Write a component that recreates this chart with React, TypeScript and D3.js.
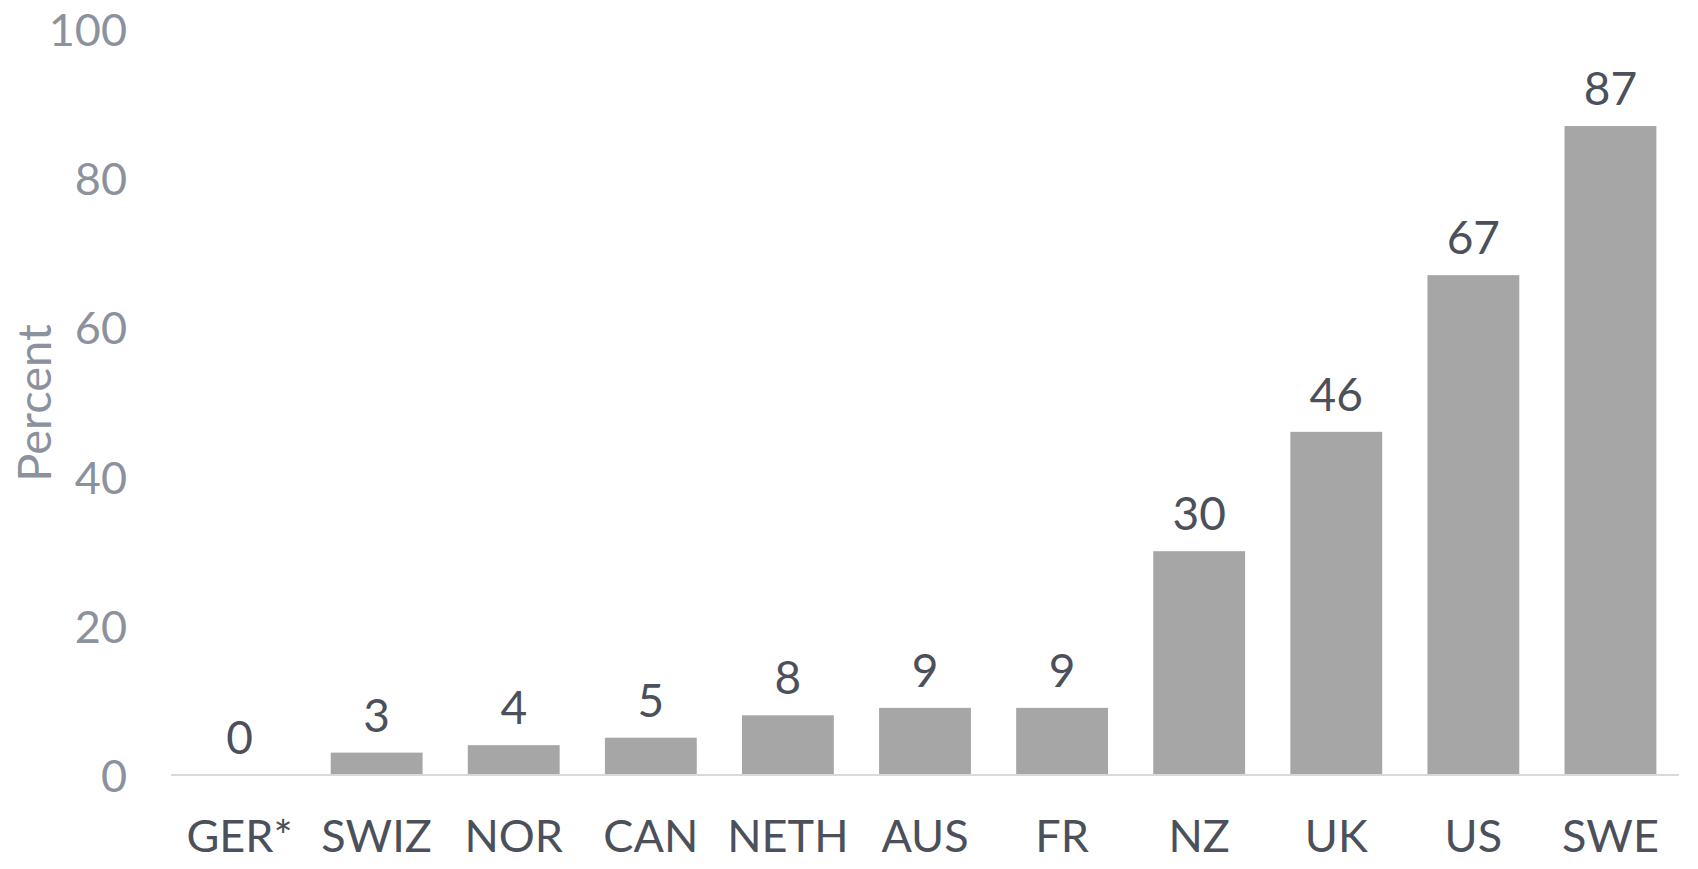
import React, { useEffect } from 'react'
import * as d3 from 'd3'

const categories = ['GER*', 'SWIZ', 'NOR', 'CAN', 'NETH', 'AUS', 'FR', 'NZ', 'UK', 'US', 'SWE']
const values = [0, 3, 4, 5, 8, 9, 9, 30, 46, 67, 87]
const yTicks = [0, 20, 40, 60, 80, 100]

const W = 1698
const H = 869
const FONT = 'Lato, "Open Sans", sans-serif'

export default function App() {
  useEffect(() => {
    document.body.style.margin = '0'
  }, [])

  const x = d3.scaleBand<string>().domain(categories).range([171, 1679]).paddingInner(0.33).paddingOuter(0.165)
  const y = d3.scaleLinear().domain([0, 100]).range([775, 29])

  return (
    <svg width={W} height={H} style={{ display: 'block', background: '#fff' }} fontFamily={FONT}>
      {/* y tick labels, no axis line */}
      {yTicks.map((t) => (
        <text key={`yt-${t}`} x={127} y={y(t)} textAnchor="end" dominantBaseline="central" fontSize={45} fill="#8b929d">
          {t}
        </text>
      ))}
      <text
        transform={`translate(51, 403) rotate(-90)`}
        textAnchor="middle"
        fontSize={47}
        fill="#8b929d"
      >
        Percent
      </text>

      {categories.map((c, i) => (
        <rect
          key={`bar-${c}`}
          x={x(c)}
          y={y(values[i])}
          width={x.bandwidth()}
          height={y(0) - y(values[i])}
          fill="#a6a6a6"
        />
      ))}

      <line x1={171} x2={1679} y1={y(0)} y2={y(0)} stroke="#d9d9d9" strokeWidth={2} />

      {categories.map((c, i) => (
        <text
          key={`val-${c}`}
          x={(x(c) || 0) + x.bandwidth() / 2}
          y={y(values[i]) - 21}
          textAnchor="middle"
          fontSize={46}
          fill="#4b505a"
        >
          {values[i]}
        </text>
      ))}

      {categories.map((c) => (
        <text
          key={`cat-${c}`}
          x={(x(c) || 0) + x.bandwidth() / 2}
          y={852}
          textAnchor="middle"
          fontSize={45}
          fill="#4b505a"
        >
          {c}
        </text>
      ))}
    </svg>
  )
}
